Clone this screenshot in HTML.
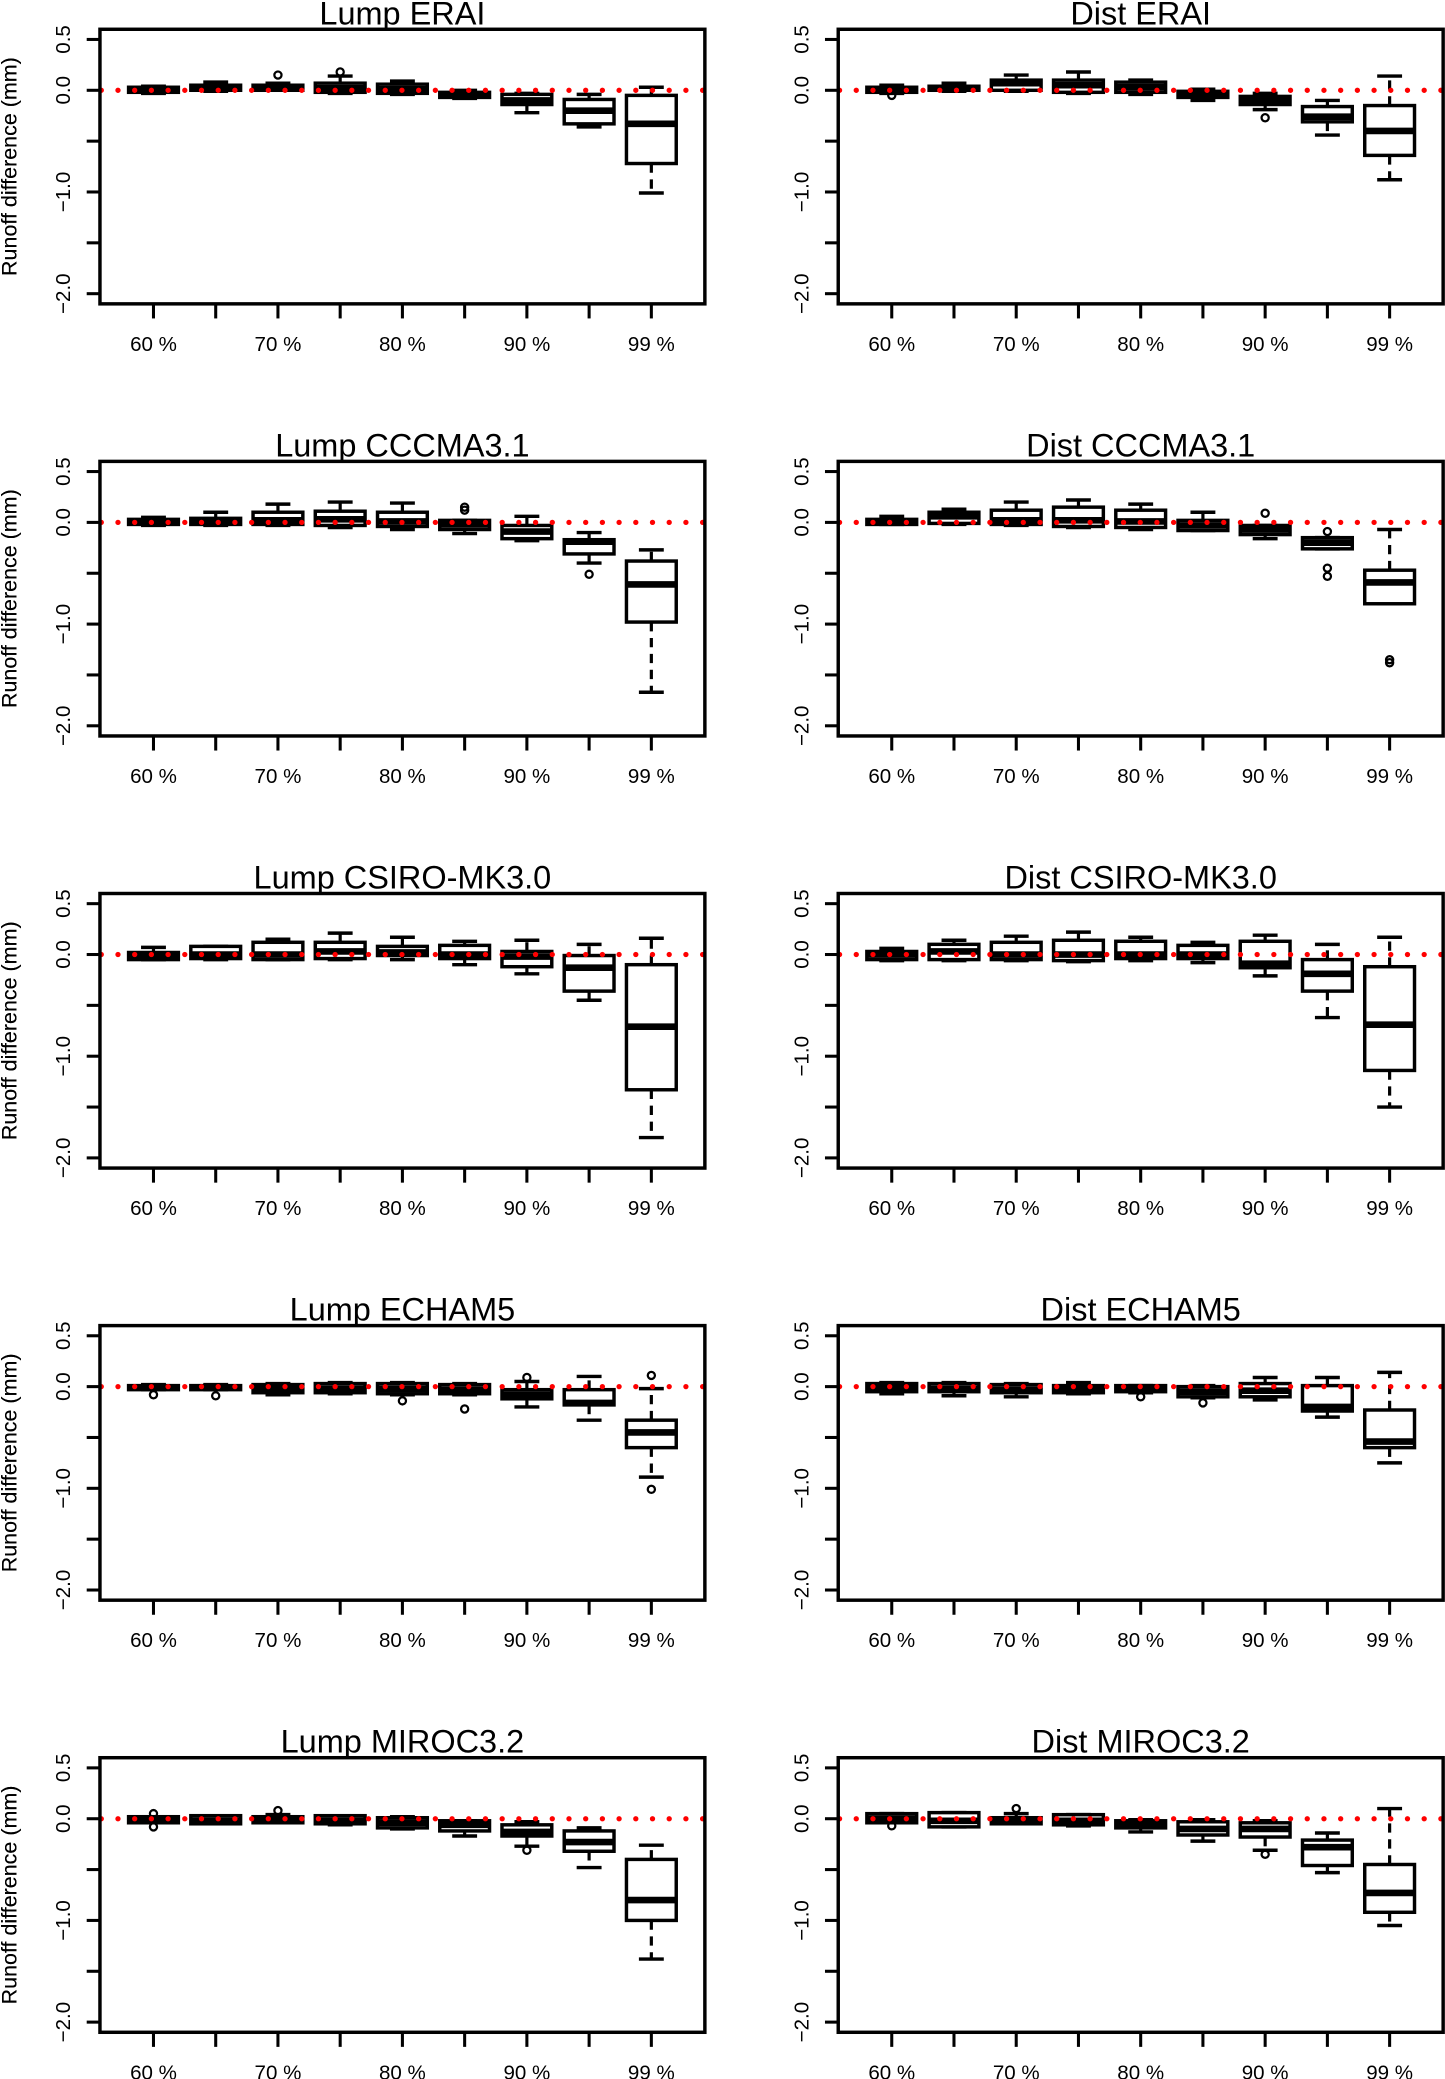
<!DOCTYPE html>
<html><head><meta charset="utf-8"><title>Runoff difference boxplots</title>
<style>
html,body{margin:0;padding:0;background:#fff;}
svg{display:block;}
text{font-family:"Liberation Sans",Arial,sans-serif;fill:#000;}
</style></head>
<body>
<svg id="chart" xmlns="http://www.w3.org/2000/svg" width="1445" height="2079" viewBox="0 0 1090 1568" preserveAspectRatio="none"></svg>
<script>
// Panel titles
const titles = ["Lump ERAI","Dist ERAI","Lump CCCMA3.1","Dist CCCMA3.1","Lump CSIRO-MK3.0","Dist CSIRO-MK3.0","Lump ECHAM5","Dist ECHAM5","Lump MIROC3.2","Dist MIROC3.2"];
const xTickLabels = ["60 %","70 %","80 %","90 %","99 %"];
const xLabelPositions = [1,3,5,7,9];
const yTickValues = [0.5,0,-0.5,-1,-1.5,-2];
const yTickLabels = ["0.5","0.0","","\u22121.0","","\u22122.0"];
// each box: [lowWhisker, q1, median, q3, highWhisker]
const lumpERAI = [[-0.03,-0.02,0,0.03,0.04],[-0.01,0,0.02,0.05,0.08],[0,0,0.02,0.05,0.07],[-0.03,-0.02,0.02,0.07,0.14],[-0.04,-0.03,0.01,0.06,0.09],[-0.08,-0.07,-0.04,-0.02,0],[-0.22,-0.14,-0.1,-0.04,-0.03],[-0.36,-0.33,-0.2,-0.09,-0.04],[-1.01,-0.72,-0.33,-0.05,0.03]];
const lumpERAIOut = [[],[],[0.15],[0.18],[],[],[],[],[]];
const distERAI = [[-0.03,-0.02,0,0.03,0.05],[-0.01,0,0.02,0.04,0.07],[-0.01,0,0.07,0.1,0.15],[-0.03,-0.02,0.05,0.1,0.18],[-0.04,-0.02,0.03,0.08,0.1],[-0.1,-0.07,-0.03,-0.01,0.01],[-0.19,-0.14,-0.1,-0.06,-0.03],[-0.44,-0.31,-0.26,-0.16,-0.1],[-0.88,-0.64,-0.4,-0.15,0.14]];
const distERAIOut = [[-0.05],[],[],[],[],[],[-0.27],[],[]];
const lumpCCCMA = [[-0.03,-0.02,0,0.03,0.05],[-0.03,-0.02,0,0.04,0.1],[-0.03,-0.02,0.02,0.1,0.18],[-0.05,-0.03,0.03,0.11,0.2],[-0.07,-0.04,0.01,0.1,0.19],[-0.11,-0.07,-0.02,0.02,0.02],[-0.18,-0.16,-0.09,-0.03,0.06],[-0.4,-0.31,-0.19,-0.17,-0.1],[-1.67,-0.98,-0.61,-0.38,-0.27]];
const lumpCCCMAOut = [[],[],[],[],[],[0.12,0.15],[],[-0.51],[]];
const distCCCMA = [[-0.02,-0.02,0,0.03,0.06],[-0.02,-0.01,0.06,0.1,0.13],[-0.03,-0.02,0.02,0.12,0.2],[-0.05,-0.04,0.02,0.15,0.22],[-0.07,-0.05,0.01,0.12,0.18],[-0.08,-0.08,-0.03,0.02,0.1],[-0.16,-0.12,-0.07,-0.03,-0.03],[-0.26,-0.26,-0.2,-0.15,-0.15],[-0.8,-0.8,-0.59,-0.47,-0.07]];
const distCCCMAOut = [[],[],[],[],[],[],[0.09],[-0.09,-0.45,-0.53],[-1.35,-1.38]];
const lumpCSIRO = [[-0.05,-0.05,-0.01,0.02,0.07],[-0.05,-0.04,0,0.08,0.08],[-0.05,-0.05,0,0.12,0.15],[-0.05,-0.04,0.03,0.12,0.21],[-0.05,-0.01,0.02,0.08,0.17],[-0.1,-0.04,0,0.09,0.13],[-0.19,-0.12,-0.02,0.03,0.14],[-0.45,-0.36,-0.13,-0.01,0.1],[-1.8,-1.33,-0.71,-0.1,0.16]];
const lumpCSIROOut = [[],[],[],[],[],[],[],[],[]];
const distCSIRO = [[-0.06,-0.05,0,0.03,0.06],[-0.06,-0.05,0.03,0.1,0.14],[-0.06,-0.05,0,0.12,0.18],[-0.07,-0.06,0,0.14,0.22],[-0.06,-0.04,0,0.13,0.17],[-0.08,-0.04,0,0.09,0.12],[-0.21,-0.13,-0.09,0.13,0.19],[-0.62,-0.36,-0.19,-0.05,0.1],[-1.5,-1.14,-0.69,-0.12,0.17]];
const distCSIROOut = [[],[],[],[],[],[],[],[],[]];
const lumpECHAM = [[-0.03,-0.03,-0.01,0.01,0.02],[-0.03,-0.03,-0.01,0.01,0.02],[-0.08,-0.06,-0.02,0.02,0.03],[-0.07,-0.06,-0.02,0.03,0.04],[-0.08,-0.07,-0.02,0.03,0.04],[-0.08,-0.07,-0.03,0.02,0.03],[-0.2,-0.12,-0.08,-0.03,0.05],[-0.33,-0.18,-0.16,-0.03,0.1],[-0.89,-0.6,-0.45,-0.33,-0.02]];
const lumpECHAMOut = [[-0.08],[-0.09],[],[],[-0.14],[-0.22],[0.09],[],[0.11,-1.01]];
const distECHAM = [[-0.07,-0.05,-0.01,0.03,0.04],[-0.09,-0.05,-0.02,0.03,0.04],[-0.1,-0.06,-0.03,0.02,0.03],[-0.07,-0.06,-0.03,0.01,0.04],[-0.06,-0.05,-0.03,0.01,0.01],[-0.11,-0.1,-0.05,0,0.01],[-0.13,-0.1,-0.04,0.03,0.09],[-0.3,-0.24,-0.2,0.01,0.09],[-0.75,-0.6,-0.54,-0.23,0.14]];
const distECHAMOut = [[],[],[],[],[-0.1],[-0.16],[],[],[]];
const lumpMIROC = [[-0.04,-0.04,-0.01,0.02,0.02],[-0.05,-0.05,-0.02,0.03,0.03],[-0.04,-0.04,-0.01,0.02,0.04],[-0.06,-0.05,-0.02,0.03,0.03],[-0.1,-0.09,-0.04,0.01,0.02],[-0.17,-0.12,-0.06,-0.02,-0.02],[-0.27,-0.17,-0.13,-0.06,-0.03],[-0.48,-0.32,-0.23,-0.12,-0.09],[-1.38,-1.0,-0.8,-0.4,-0.26]];
const lumpMIROCOut = [[0.05,-0.08],[],[0.08],[],[],[],[-0.31],[],[]];
const distMIROC = [[-0.04,-0.04,0,0.05,0.05],[-0.08,-0.08,-0.02,0.06,0.06],[-0.05,-0.05,-0.01,0.01,0.05],[-0.07,-0.06,-0.02,0.04,0.04],[-0.13,-0.09,-0.05,-0.02,-0.01],[-0.22,-0.16,-0.1,-0.03,-0.01],[-0.31,-0.18,-0.1,-0.04,-0.02],[-0.53,-0.46,-0.28,-0.21,-0.14],[-1.05,-0.92,-0.73,-0.45,0.1]];
const distMIROCOut = [[-0.07],[],[0.1],[],[],[],[-0.35],[],[]];

const panelStats = [lumpERAI,distERAI,lumpCCCMA,distCCCMA,lumpCSIRO,distCSIRO,lumpECHAM,distECHAM,lumpMIROC,distMIROC];
const panelOut = [lumpERAIOut,distERAIOut,lumpCCCMAOut,distCCCMAOut,lumpCSIROOut,distCSIROOut,lumpECHAMOut,distECHAMOut,lumpMIROCOut,distMIROCOut];

const NS = "http://www.w3.org/2000/svg";
const svg = document.getElementById("chart");
function mk(tag, attrs, parent){
  const e = document.createElementNS(NS, tag);
  for (const k in attrs) e.setAttribute(k, attrs[k]);
  parent.appendChild(e);
  return e;
}
const colLeft = [75.4, 632.3];
const boxW = 456.3;
const rowZero0 = 68.1, rowStep = 325.9;
const unit = 76.7;
const yMin = -2.1, yMax = 0.6, xMin = 0.14, xMax = 9.86;

panelStats.forEach(function(stats, p){
  const col = p % 2, row = Math.floor(p / 2);
  const left = colLeft[col];
  const top = rowZero0 + rowStep*row - yMax*unit;
  const height = (yMax - yMin)*unit;
  const xs = function(v){ return left + (v - xMin)/(xMax - xMin)*boxW; };
  const ys = function(v){ return top + (yMax - v)/(yMax - yMin)*height; };
  const g = mk("g", {}, svg);
  
  

  const t = mk("text", {x: left + boxW/2, y: top - 3.8, "text-anchor":"middle", "font-size":"24.5"}, g);
  t.textContent = titles[p];
  
  

  const yt = mk("text", {transform:"translate(12.6," + (top + height/2) + ") rotate(-90)", "text-anchor":"middle", "font-size":"16.2"}, g);
  yt.textContent = "Runoff difference (mm)";
  
  

  yTickValues.forEach(function(v, i){
    const y = ys(v);
    const tk = mk("line", {x1: left - 10, x2: left, y1: y, y2: y, stroke:"#000", "stroke-width":"2.3"}, g);
    
    
    if (yTickLabels[i]) {
      const lb = mk("text", {transform:"translate(" + (left - 22.5) + "," + y + ") rotate(-90)", "text-anchor":"middle", "font-size":"15.5"}, g);
      lb.textContent = yTickLabels[i];
      
      
    }
  });

  for (let i = 1; i <= 9; i++) {
    const tk = mk("line", {x1: xs(i), x2: xs(i), y1: top + height, y2: top + height + 11, stroke:"#000", "stroke-width":"2.3"}, g);
    
    
  }
  xLabelPositions.forEach(function(pos, i){
    const lb = mk("text", {x: xs(pos), y: top + height + 35.5, "text-anchor":"middle", "font-size":"15.5"}, g);
    lb.textContent = xTickLabels[i];
    
    
  });

  stats.forEach(function(s, i){
    const cx = xs(i + 1);
    const hw = 0.4/(xMax - xMin)*boxW;
    const cw = hw/2;
    const bg = mk("g", {stroke:"#000", fill:"none"}, g);
    
    
    mk("line", {x1: cx, x2: cx, y1: ys(s[3]), y2: ys(s[4]), "stroke-width":"2.4", "stroke-dasharray":"7,5"}, bg);
    mk("line", {x1: cx, x2: cx, y1: ys(s[1]), y2: ys(s[0]), "stroke-width":"2.4", "stroke-dasharray":"7,5"}, bg);
    mk("line", {x1: cx - cw, x2: cx + cw, y1: ys(s[4]), y2: ys(s[4]), "stroke-width":"2.6"}, bg);
    mk("line", {x1: cx - cw, x2: cx + cw, y1: ys(s[0]), y2: ys(s[0]), "stroke-width":"2.6"}, bg);
    mk("rect", {x: cx - hw, y: ys(s[3]), width: 2*hw, height: Math.max(0.1, ys(s[1]) - ys(s[3])), fill:"#fff", "stroke-width":"2.6"}, bg);
    mk("line", {x1: cx - hw, x2: cx + hw, y1: ys(s[2]), y2: ys(s[2]), "stroke-width":"5"}, bg);
    panelOut[p][i].forEach(function(o){
      const c = mk("circle", {cx: cx, cy: ys(o), r: 2.7, "stroke-width":"1.7", fill:"none"}, bg);
      
      
    });
  });

  const zl = mk("line", {x1: left + 1, x2: left + boxW, y1: ys(0), y2: ys(0), stroke:"#ff0000", "stroke-width":"4", "stroke-linecap":"round", "stroke-dasharray":"0,12.6"}, g);
  
  

  const fr = mk("rect", {x: left, y: top, width: boxW, height: height, fill:"none", stroke:"#000", "stroke-width":"2.6"}, g);
  
  
});
</script>
</body></html>
